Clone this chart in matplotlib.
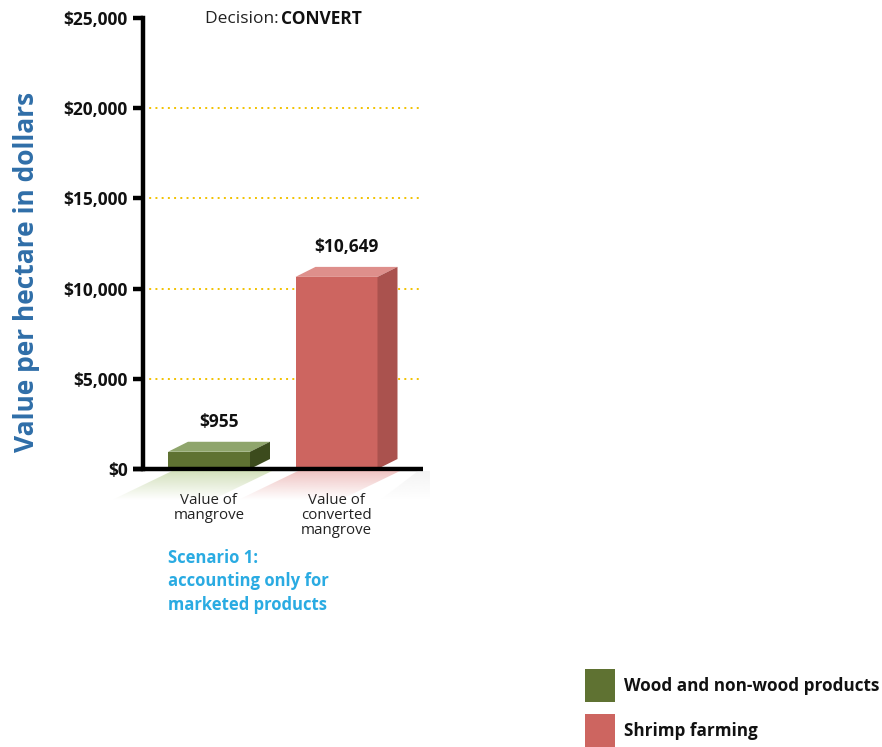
import numpy as np
import matplotlib
matplotlib.use("Agg")
import matplotlib.pyplot as plt
from matplotlib.patches import Polygon, Rectangle
from matplotlib.colors import to_rgb

# --- dados ---
categories = ["Value of\nmangrove", "Value of\nconverted\nmangrove"]
values = [955, 10649]
value_labels = ["$955", "$10,649"]
series_names = ["Wood and non-wood products", "Shrimp farming"]
y_ticks = [0, 5000, 10000, 15000, 20000, 25000]
y_tick_labels = ["$0", "$5,000", "$10,000", "$15,000", "$20,000", "$25,000"]

# cores: frente, topo, lateral
front_colors = ["#5f7232", "#cd6560"]
top_colors = ["#8fa56c", "#de8f8b"]
side_colors = ["#3c4b1d", "#aa524e"]

FONT = "Open Sans"
W, H = 882, 747


def fig_rect(x0, y0, x1, y1):
    # converte coordenadas em pixels (origem no topo) para fração da figura
    return [x0 / W, 1 - y1 / H, (x1 - x0) / W, (y1 - y0) / H]


fig = plt.figure(figsize=(W / 100, H / 100), dpi=100)
fig.patch.set_facecolor("white")

ax = fig.add_axes(fig_rect(143, 18, 423, 469))
ax.set_xlim(0, 280)
ax.set_ylim(0, 25000)

# linhas de grade pontilhadas
for t in y_ticks[1:-1]:
    ax.axhline(t, color="#f2c200", lw=1.4, ls=(0, (1, 2.2)), zorder=1)

# barras 3D: frente + topo + lateral
positions = [66, 193.5]
bar_w = 82
dx = 20
dy = 10 / 451 * 25000

bars = ax.bar(positions, values, width=bar_w, color=front_colors, zorder=3, linewidth=0)
for i, b in enumerate(bars):
    x0 = b.get_x()
    x1 = x0 + b.get_width()
    h = b.get_height()
    top = Polygon([(x0, h), (x0 + dx, h + dy), (x1 + dx, h + dy), (x1, h)],
                  closed=True, facecolor=top_colors[i], edgecolor="none", zorder=3)
    side = Polygon([(x1, 0), (x1 + dx, dy), (x1 + dx, h + dy), (x1, h)],
                   closed=True, facecolor=side_colors[i], edgecolor="none", zorder=3)
    ax.add_patch(top)
    ax.add_patch(side)
    ax.text(x0 + bar_w / 2 + dx / 2, h + dy + 1100, value_labels[i], ha="center", va="center",
            fontsize=12.5, fontweight="bold", family=FONT, color="#111111", zorder=4)
    ax.text(x0 + bar_w / 2, -1350, categories[i], ha="center", va="top",
            fontsize=10.8, family=FONT, color="#222222", linespacing=1.0, clip_on=False)

# eixos
for s in ["top", "right", "bottom"]:
    ax.spines[s].set_visible(False)
ax.spines["left"].set_linewidth(3.2)
ax.spines["left"].set_color("black")
ax.plot([-10, 280], [0, 0], color="black", lw=3.2, clip_on=False, zorder=5,
        solid_capstyle="butt")
ax.set_xticks([])
ax.set_yticks(y_ticks)
ax.set_yticklabels(y_tick_labels)
ax.tick_params(axis="y", length=7, width=3.2, pad=4, color="black")
for lbl in ax.get_yticklabels():
    lbl.set_fontfamily(FONT)
    lbl.set_fontweight("bold")
    lbl.set_fontsize(12.5)
    lbl.set_color("#111111")

# reflexos suaves abaixo da linha de base
sh = fig.add_axes(fig_rect(100, 471, 430, 500))
sh.set_xlim(100, 430)
sh.set_ylim(500, 471)
sh.axis("off")
shadows = [
    ([(172, 471), (272, 471), (212, 500), (112, 500)], "#a8c27a", 0.5),
    ([(298, 471), (400, 471), (340, 500), (238, 500)], "#e08a88", 0.5),
    ([(418, 471), (430, 471), (430, 500), (380, 500)], "#e0e0e0", 0.35),
]
for pts, c, a in shadows:
    rgba = np.zeros((64, 1, 4))
    rgba[..., :3] = to_rgb(c)
    rgba[..., 3] = np.linspace(a, 0.0, 64).reshape(-1, 1)
    poly = Polygon(pts, closed=True, facecolor="none", edgecolor="none")
    sh.add_patch(poly)
    im = sh.imshow(rgba, extent=[100, 430, 500, 471], aspect="auto", interpolation="bilinear")
    im.set_clip_path(poly)

# rótulo do eixo y
fig.text(27 / W, 1 - 272 / H, "Value per hectare in dollars", rotation=90, ha="center", va="center",
         fontsize=19, fontweight="bold", family=FONT, color="#2f6ea8")

# título: Decision: CONVERT
t1 = fig.text(205 / W, 1 - 19 / H, "Decision: ", ha="left", va="center",
              fontsize=12.5, family=FONT, color="#222222")
fig.canvas.draw()
bb = t1.get_window_extent()
fig.text(bb.x1 / W - 0.002, 1 - 19 / H, "CONVERT", ha="left", va="center",
         fontsize=12.5, fontweight="bold", family=FONT, color="#111111")

# cenário
fig.text(168 / W, 1 - 549 / H, "Scenario 1:\naccounting only for\nmarketed products", ha="left", va="top",
         fontsize=12, fontweight="bold", family=FONT, color="#2aabe2", linespacing=1.38)

# legenda
legend_y = [686, 731]
for name, c, yc in zip(series_names, front_colors, legend_y):
    fig.patches.append(Rectangle((585 / W, 1 - (yc + 16) / H), 30 / W, 33 / H,
                                 transform=fig.transFigure, facecolor=c, edgecolor="none"))
    fig.text(624 / W, 1 - yc / H, name, ha="left", va="center",
             fontsize=12.3, fontweight="bold", family=FONT, color="#111111")

fig.savefig("out.png", dpi=100, facecolor="white")
